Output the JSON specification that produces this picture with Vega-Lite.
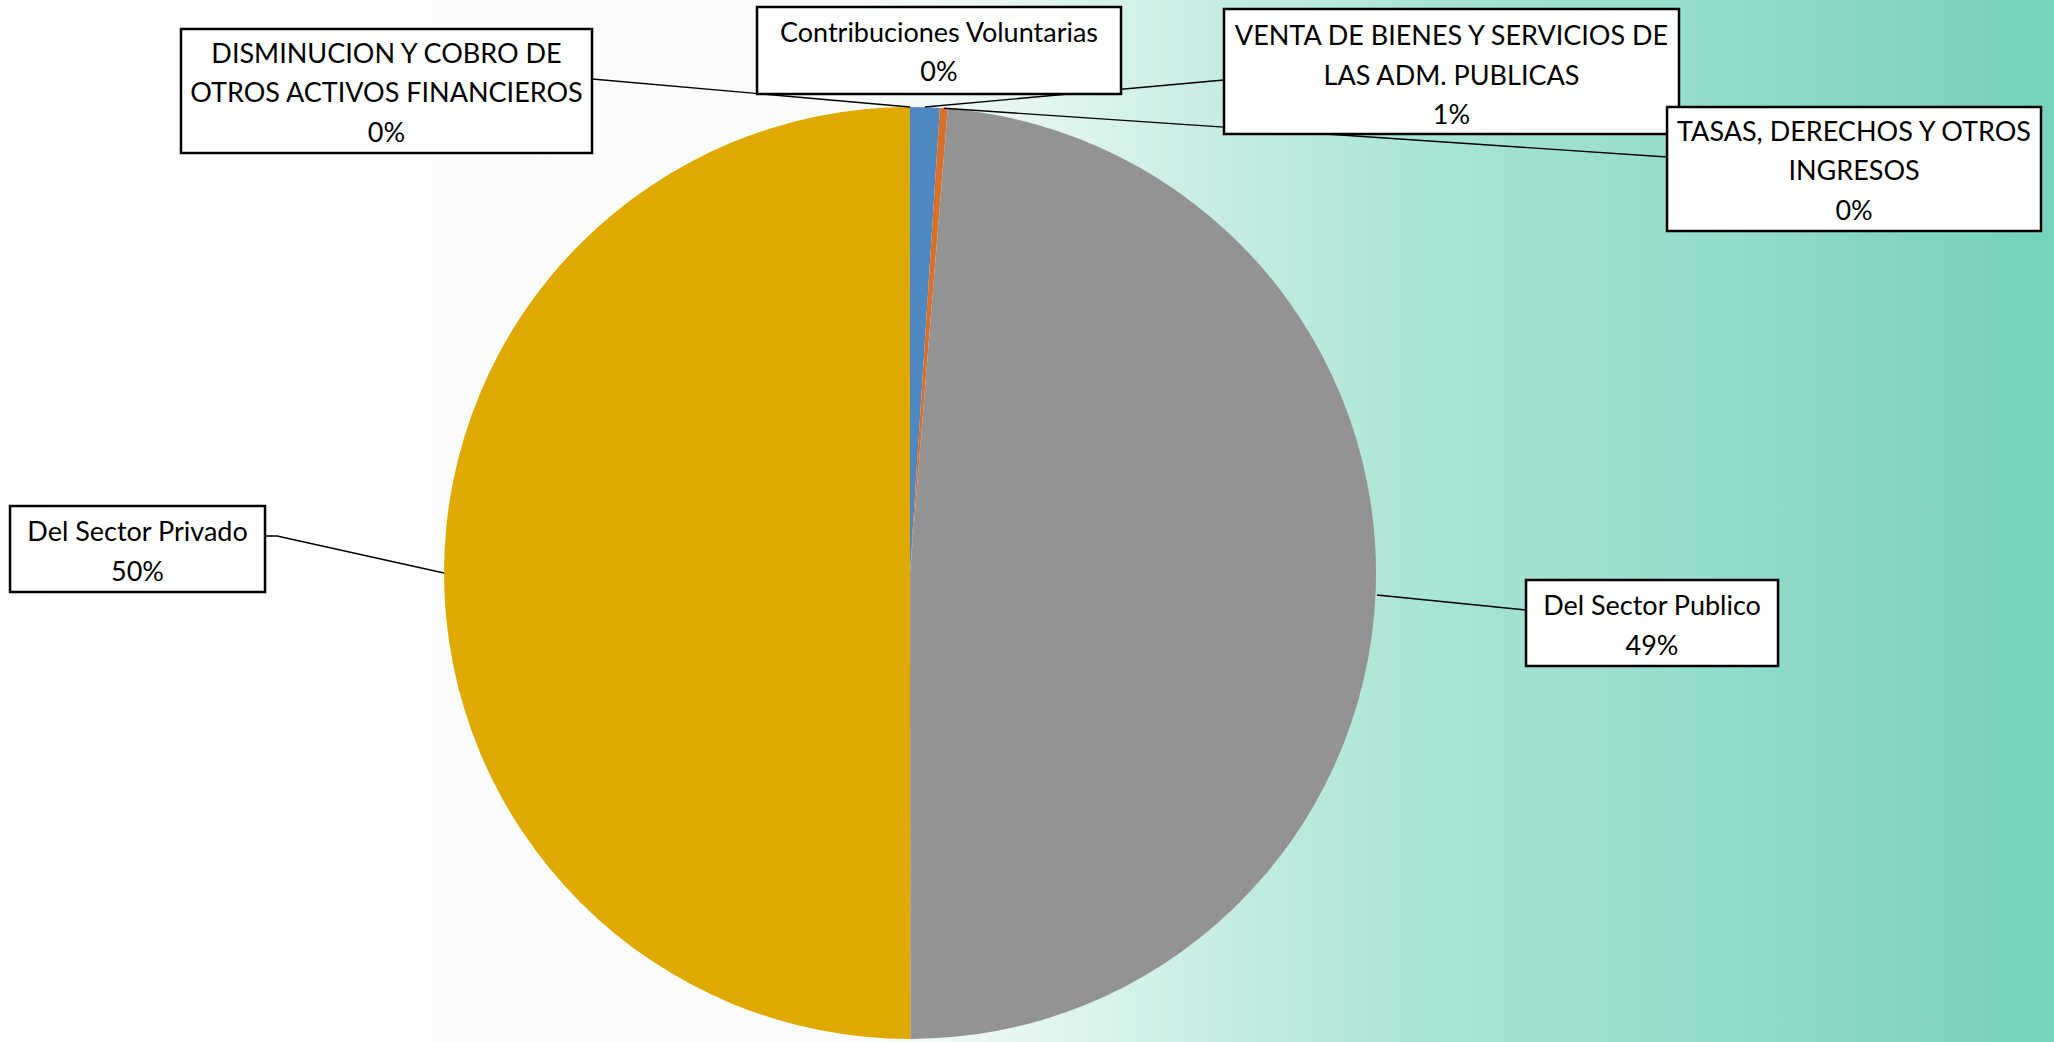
{
  "$schema": "https://vega.github.io/schema/vega-lite/v6.json",
  "width": 2054,
  "height": 1042,
  "autosize": {"type": "fit", "contains": "padding"},
  "padding": 0,
  "background": "#ffffff",
  "config": {
    "view": {
      "stroke": null,
      "fill": {
        "gradient": "linear",
        "x1": 0, "y1": 0, "x2": 1, "y2": 0,
        "stops": [
          {"offset": 0, "color": "#ffffff"},
          {"offset": 0.42, "color": "#f9fcfb"},
          {"offset": 0.5, "color": "#e4f6f1"},
          {"offset": 0.6, "color": "#c4ece2"},
          {"offset": 0.7, "color": "#a8e4d5"},
          {"offset": 0.85, "color": "#90dbc9"},
          {"offset": 1, "color": "#74d2bb"}
        ]
      }
    }
  },
  "datasets": {
    "rubros": [
      {"categoria": "VENTA DE BIENES Y SERVICIOS DE LAS ADM. PUBLICAS", "porcentaje": 1.02, "orden": 1},
      {"categoria": "TASAS, DERECHOS Y OTROS INGRESOS", "porcentaje": 0.27, "orden": 2},
      {"categoria": "Del Sector Publico", "porcentaje": 48.7, "orden": 3},
      {"categoria": "Del Sector Privado", "porcentaje": 50.0, "orden": 4},
      {"categoria": "DISMINUCION Y COBRO DE OTROS ACTIVOS FINANCIEROS", "porcentaje": 0.004, "orden": 5},
      {"categoria": "Contribuciones Voluntarias", "porcentaje": 0.004, "orden": 6}
    ],
    "cajas": [
      {"etiqueta": "DISMINUCION Y COBRO DE\nOTROS ACTIVOS FINANCIEROS\n0%", "x1": -1.5644, "x2": -0.6824, "y1": 1.1674, "y2": 0.9013, "cx": -1.1234, "cy": 1.1116},
      {"etiqueta": "Contribuciones Voluntarias\n0%", "x1": -0.3283, "x2": 0.4528, "y1": 1.2146, "y2": 1.0279, "cx": 0.0622, "cy": 1.1567},
      {"etiqueta": "VENTA DE BIENES Y SERVICIOS DE\nLAS ADM. PUBLICAS\n1%", "x1": 0.6738, "x2": 1.6502, "y1": 1.2103, "y2": 0.9421, "cx": 1.162, "cy": 1.1502},
      {"etiqueta": "TASAS, DERECHOS Y OTROS\nINGRESOS\n0%", "x1": 1.6245, "x2": 2.427, "y1": 1.0, "y2": 0.7339, "cx": 2.0258, "cy": 0.9442},
      {"etiqueta": "Del Sector Privado\n50%", "x1": -1.9313, "x2": -1.3841, "y1": 0.1438, "y2": -0.0408, "cx": -1.6577, "cy": 0.0858},
      {"etiqueta": "Del Sector Publico\n49%", "x1": 1.3219, "x2": 1.8627, "y1": -0.015, "y2": -0.1996, "cx": 1.5923, "cy": -0.073}
    ],
    "guias": [
      {"guia": "DISMINUCION", "paso": 1, "x": -0.6824, "y": 1.0601},
      {"guia": "DISMINUCION", "paso": 2, "x": 0.0, "y": 1.0},
      {"guia": "VENTA", "paso": 1, "x": 0.6738, "y": 1.0579},
      {"guia": "VENTA", "paso": 2, "x": 0.032, "y": 1.0},
      {"guia": "TASAS", "paso": 1, "x": 1.6245, "y": 0.8927},
      {"guia": "TASAS", "paso": 2, "x": 0.0725, "y": 0.9974},
      {"guia": "Privado", "paso": 1, "x": -1.3841, "y": 0.0794},
      {"guia": "Privado", "paso": 2, "x": -1.3584, "y": 0.0794},
      {"guia": "Privado", "paso": 3, "x": -1.0, "y": 0.0},
      {"guia": "Publico", "paso": 1, "x": 1.3219, "y": -0.0794},
      {"guia": "Publico", "paso": 2, "x": 1.002, "y": -0.0472}
    ]
  },
  "layer": [
    {
      "data": {"name": "rubros"},
      "mark": {"type": "arc", "outerRadius": 466, "stroke": null},
      "encoding": {
        "theta": {"field": "porcentaje", "type": "quantitative", "stack": true},
        "order": {"field": "orden", "type": "quantitative"},
        "color": {
          "field": "categoria",
          "type": "nominal",
          "scale": {
            "domain": ["VENTA DE BIENES Y SERVICIOS DE LAS ADM. PUBLICAS", "TASAS, DERECHOS Y OTROS INGRESOS", "Del Sector Publico", "Del Sector Privado", "DISMINUCION Y COBRO DE OTROS ACTIVOS FINANCIEROS", "Contribuciones Voluntarias"],
            "range": ["#4f88c0", "#d8702b", "#939393", "#e0a900", "#3f6fa3", "#5b8f3a"]
          },
          "legend": null
        },
        "x": {"datum": 0, "type": "quantitative", "scale": {"domain": [-1.9528, 2.4549], "nice": false, "zero": false}, "axis": null},
        "y": {"datum": 0, "type": "quantitative", "scale": {"domain": [-1.0064, 1.2296], "nice": false, "zero": false}, "axis": null}
      }
    },
    {
      "data": {"name": "guias"},
      "mark": {"type": "line", "color": "#000000", "strokeWidth": 1.4},
      "encoding": {
        "x": {"field": "x", "type": "quantitative", "scale": {"domain": [-1.9528, 2.4549], "nice": false, "zero": false}, "axis": null},
        "y": {"field": "y", "type": "quantitative", "scale": {"domain": [-1.0064, 1.2296], "nice": false, "zero": false}, "axis": null},
        "detail": {"field": "guia", "type": "nominal"},
        "order": {"field": "paso", "type": "quantitative"}
      }
    },
    {
      "data": {"name": "cajas"},
      "mark": {"type": "rect", "fill": "#ffffff", "stroke": "#000000", "strokeWidth": 2.5},
      "encoding": {
        "x": {"field": "x1", "type": "quantitative", "scale": {"domain": [-1.9528, 2.4549], "nice": false, "zero": false}, "axis": null},
        "x2": {"field": "x2"},
        "y": {"field": "y1", "type": "quantitative", "scale": {"domain": [-1.0064, 1.2296], "nice": false, "zero": false}, "axis": null},
        "y2": {"field": "y2"}
      }
    },
    {
      "data": {"name": "cajas"},
      "mark": {"type": "text", "font": "Lato", "fontSize": 27, "color": "#000000", "align": "center", "baseline": "middle", "lineBreak": "\n", "lineHeight": 39.5},
      "encoding": {
        "x": {"field": "cx", "type": "quantitative", "scale": {"domain": [-1.9528, 2.4549], "nice": false, "zero": false}, "axis": null},
        "y": {"field": "cy", "type": "quantitative", "scale": {"domain": [-1.0064, 1.2296], "nice": false, "zero": false}, "axis": null},
        "text": {"field": "etiqueta", "type": "nominal"}
      }
    }
  ]
}
